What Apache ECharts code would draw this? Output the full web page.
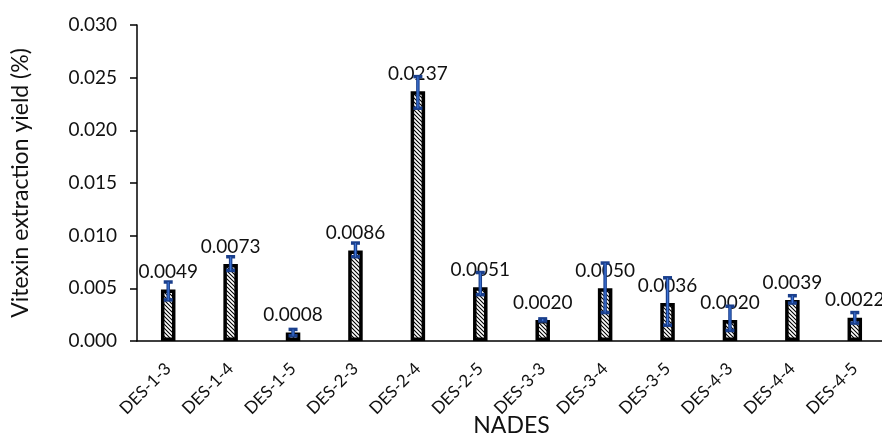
<!DOCTYPE html>
<html>
<head>
<meta charset="utf-8">
<script src="https://cdn.jsdelivr.net/npm/echarts@6/dist/echarts.min.js"></script>
<style>
html,body{margin:0;padding:0;background:#fff;}
#chart{width:882px;height:434px;}
</style>
</head>
<body>
<div id="chart"></div>
<script>
var categories = ['DES-1-3','DES-1-4','DES-1-5','DES-2-3','DES-2-4','DES-2-5','DES-3-3','DES-3-4','DES-3-5','DES-4-3','DES-4-4','DES-4-5'];
var yieldValues = [0.0049, 0.0073, 0.0008, 0.0086, 0.0237, 0.0051, 0.0020, 0.0050, 0.0036, 0.0020, 0.0039, 0.0022];
var errorHigh = [0.0056, 0.0080, 0.0011, 0.0093, 0.0251, 0.0065, 0.0021, 0.0074, 0.0060, 0.0033, 0.0043, 0.0027];
var errorLow  = [0.0039, 0.0067, 0.0005, 0.0080, 0.0221, 0.0044, 0.0019, 0.0027, 0.0015, 0.0010, 0.0036, 0.0017];
var yTicks = [0, 0.005, 0.010, 0.015, 0.020, 0.025, 0.030];

var FONT = 'Lato';
var TXT = '#111';

// hatch pattern
var pc = document.createElement('canvas');
pc.width = 4; pc.height = 4;
var g = pc.getContext('2d');
g.fillStyle = '#fff'; g.fillRect(0,0,4,4);
g.strokeStyle = '#000'; g.lineWidth = 1.1;
g.beginPath();
g.moveTo(-1,-1); g.lineTo(5,5);
g.moveTo(-1,3); g.lineTo(1,5);
g.moveTo(3,-1); g.lineTo(5,1);
g.stroke();

var errData = categories.map(function(c,i){ return [i, errorLow[i], errorHigh[i]]; });

var chart = echarts.init(document.getElementById('chart'));
chart.setOption({
  animation: false,
  backgroundColor: '#fff',
  grid: {left: 137, top: 25, right: -4, bottom: 93, outerBoundsMode: 'none', containLabel: false},
  xAxis: {
    type: 'category',
    data: categories,
    name: 'NADES',
    nameLocation: 'middle',
    nameGap: 73,
    nameMoveOverlap: false,
    nameTextStyle: {fontFamily: FONT, fontSize: 23, color: TXT},
    axisLine: {lineStyle: {color: '#000', width: 1.5}},
    axisTick: {show: false},
    axisLabel: {rotate: 45, fontFamily: FONT, fontSize: 17, color: TXT, margin: 25, interval: 0}
  },
  yAxis: {
    type: 'value',
    min: 0, max: 0.03, interval: 0.005,
    name: 'Vitexin extraction yield (%)',
    nameLocation: 'middle',
    nameGap: 105,
    nameMoveOverlap: false,
    nameTextStyle: {fontFamily: FONT, fontSize: 23, color: TXT},
    axisLine: {show: true, lineStyle: {color: '#000', width: 1.5}},
    axisTick: {show: true, length: 7, lineStyle: {color: '#000', width: 1.5}},
    splitLine: {show: false},
    axisLabel: {fontFamily: FONT, fontSize: 19, color: TXT, margin: 20,
      formatter: function(v){ return v.toFixed(3); }}
  },
  series: [
    {
      type: 'bar',
      data: yieldValues,
      barWidth: 14.5,
      z: 2,
      itemStyle: {color: {image: pc, repeat: 'repeat'}, borderColor: '#000', borderWidth: 3.5},
      label: {show: true, position: 'top', distance: 8, fontFamily: FONT, fontSize: 19, color: TXT,
        formatter: function(p){ return p.value.toFixed(4); }}
    },
    {
      type: 'custom',
      z: 10,
      data: errData,
      encode: {x: 0, y: [1, 2]},
      renderItem: function(params, api){
        var x = api.value(0);
        var lo = api.coord([x, api.value(1)]);
        var hi = api.coord([x, api.value(2)]);
        var hw = 4.5;
        var dark = {stroke: '#1a3f8c', lineWidth: 3.5};
        var light = {stroke: '#3d74d6', lineWidth: 1.2};
        return {
          type: 'group',
          children: [
            {type: 'line', shape: {x1: hi[0], y1: hi[1], x2: lo[0], y2: lo[1]}, style: dark},
            {type: 'line', shape: {x1: hi[0]-hw, y1: hi[1], x2: hi[0]+hw, y2: hi[1]}, style: dark},
            {type: 'line', shape: {x1: lo[0]-hw, y1: lo[1], x2: lo[0]+hw, y2: lo[1]}, style: dark},
            {type: 'line', shape: {x1: hi[0], y1: hi[1], x2: lo[0], y2: lo[1]}, style: light}
          ]
        };
      }
    }
  ]
});
</script>
</body>
</html>
